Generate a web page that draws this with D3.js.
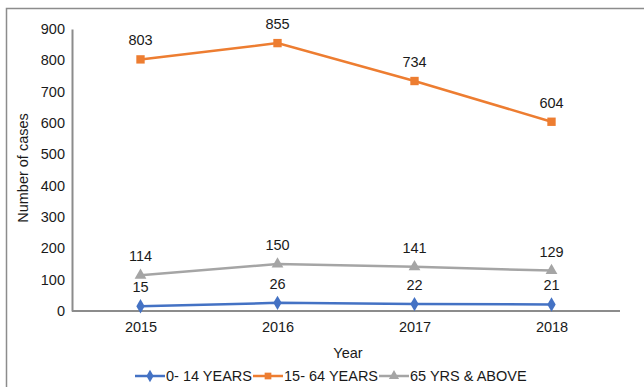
<!DOCTYPE html>
<html>
<head>
<meta charset="utf-8">
<script src="https://cdn.jsdelivr.net/npm/d3@7"></script>
<style>
  body { margin: 0; background: #fff; }
  text { font-family: "Liberation Sans", Arial, sans-serif; fill: #1a1a1a; }
</style>
</head>
<body>
<div id="chart"></div>
<script>
const years = ["2015", "2016", "2017", "2018"];
const kids = [15, 26, 22, 21];
const adults = [803, 855, 734, 604];
const elders = [114, 150, 141, 129];
const seriesNames = ["0- 14 YEARS", "15- 64 YEARS", "65 YRS & ABOVE"];
const yTicks = [0, 100, 200, 300, 400, 500, 600, 700, 800, 900];

const blue = "#4472c4";
const orange = "#ed7d31";
const grey = "#a5a5a5";
const fs = 14.5;

const svg = d3.select("#chart").append("svg").attr("width", 644).attr("height", 387);

// frame (only top and left edges show in the crop)
svg.append("path")
    .attr("d", "M6.5,387 L6.5,8.5 L644,8.5")
    .attr("fill", "none")
    .attr("stroke", "#8c8c8c")
    .attr("stroke-width", 1.5);

const x = d3.scalePoint().domain(years).range([72, 620]).padding(0.5);
const y = d3.scaleLinear().domain([0, 900]).range([311, 29]);

// axes
const yAxis = svg.append("g")
    .attr("transform", "translate(72,0)")
    .call(d3.axisLeft(y).tickValues(yTicks).tickSize(0).tickPadding(7));
yAxis.select(".domain").attr("stroke", "#8c8c8c").attr("stroke-width", 2);
yAxis.selectAll("text").attr("font-size", fs);

const xAxis = svg.append("g")
    .attr("transform", "translate(0,311)")
    .call(d3.axisBottom(x).tickSize(0).tickPadding(11));
xAxis.select(".domain").attr("stroke", "#8c8c8c").attr("stroke-width", 2)
    .attr("d", "M72,0H620");
xAxis.selectAll("text").attr("font-size", fs);

svg.append("text")
    .attr("x", 348)
    .attr("y", 358)
    .attr("text-anchor", "middle")
    .attr("font-size", fs)
    .text("Year");

svg.append("text")
    .attr("transform", "translate(28,168) rotate(-90)")
    .attr("text-anchor", "middle")
    .attr("font-size", fs)
    .text("Number of cases");

const line = d3.line().x((d, i) => x(years[i])).y(d => y(d));

function drawSeries(values, color, shape) {
    svg.append("path")
        .datum(values)
        .attr("d", line)
        .attr("fill", "none")
        .attr("stroke", color)
        .attr("stroke-width", 2.5);
    svg.selectAll(null)
        .data(values)
        .enter().append("path")
        .attr("transform", (d, i) => "translate(" + x(years[i]) + "," + y(d) + ")")
        .attr("d", d3.symbol().type(shape).size(shape === d3.symbolSquare ? 70 : 60))
        .attr("fill", color);
    svg.selectAll(null)
        .data(values)
        .enter().append("text")
        .attr("x", (d, i) => x(years[i]))
        .attr("y", d => y(d) - 14)
        .attr("text-anchor", "middle")
        .attr("font-size", fs)
        .text(d => d);
}

drawSeries(elders, grey, d3.symbolTriangle);
drawSeries(kids, blue, d3.symbolDiamond);
drawSeries(adults, orange, d3.symbolSquare);

// legend
const legendItems = [
    { name: seriesNames[0], color: blue, shape: d3.symbolDiamond, x: 135 },
    { name: seriesNames[1], color: orange, shape: d3.symbolSquare, x: 253 },
    { name: seriesNames[2], color: grey, shape: d3.symbolTriangle, x: 379 }
];
const legend = svg.append("g").attr("transform", "translate(0,376)");
legendItems.forEach(item => {
    legend.append("line")
        .attr("x1", item.x).attr("x2", item.x + 30)
        .attr("y1", 0).attr("y2", 0)
        .attr("stroke", item.color)
        .attr("stroke-width", 2.5);
    legend.append("path")
        .attr("transform", "translate(" + (item.x + 15) + ",0)")
        .attr("d", d3.symbol().type(item.shape).size(45))
        .attr("fill", item.color);
    legend.append("text")
        .attr("x", item.x + 31)
        .attr("y", 5)
        .attr("font-size", fs)
        .text(item.name);
});
</script>
</body>
</html>
